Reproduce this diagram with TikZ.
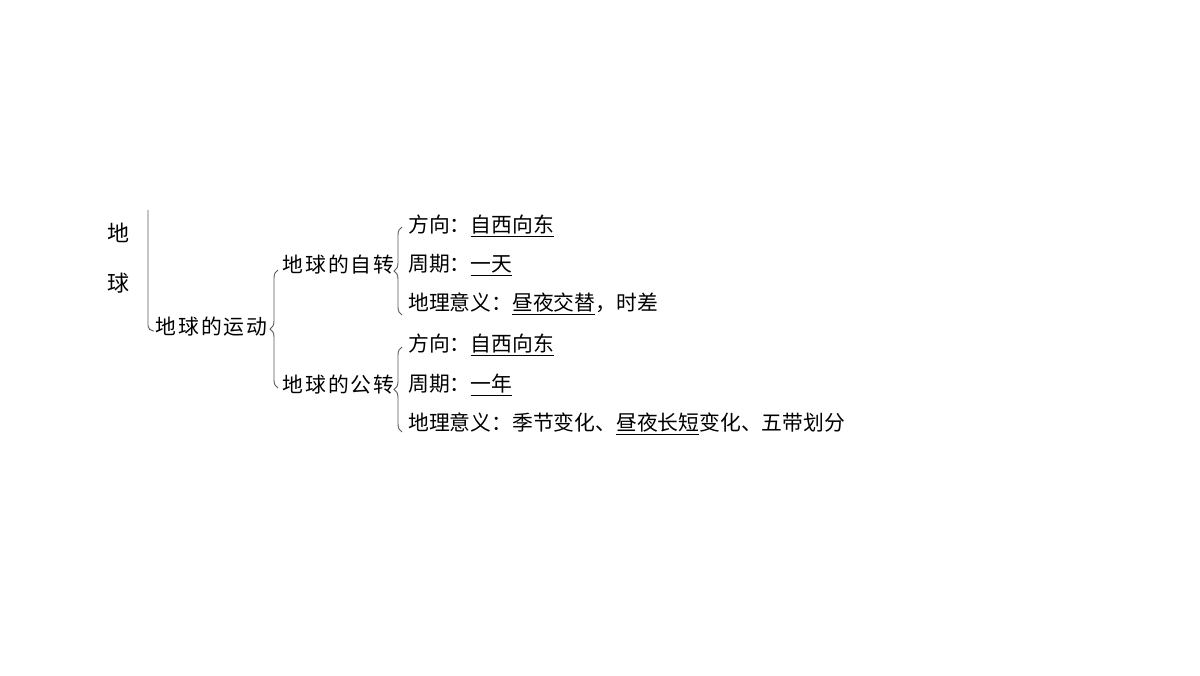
\documentclass[tikz,border=0pt]{standalone}
\usepackage{fontspec}
\usepackage{xcolor}
\usetikzlibrary{decorations.pathreplacing}
\setmainfont{Noto Sans CJK SC}
\definecolor{linegray}{RGB}{90, 90, 90}

\tikzset{
    item/.style={anchor=west,inner sep=0pt,font=\fontsize{15.6}{18}\selectfont},
    spaced/.style={item,font=\fontsize{15.6}{18}\selectfont\addfontfeature{LetterSpace=10}},
    bracket/.style={draw=linegray,line width=0.7pt,decorate,decoration={brace,amplitude=6pt}}
}

\begin{document}
\begin{tikzpicture}[x=0.75pt,y=-0.75pt]
        \useasboundingbox (0,0) rectangle (1200,675);
        % title
        \node[item,anchor=center,font=\fontsize{16.5}{18}\selectfont] (di) at (118,233) {地};
        \node[item,anchor=center,font=\fontsize{16.5}{18}\selectfont] (qiu) at (118,283) {球};
        \draw[linegray,line width=0.7pt,rounded corners=4pt] (148,210) |- (154,331);
        % middle levels
        \node[spaced] (motion) at (155,327) {地球的运动};
        \node[spaced] (rotation) at (282,265) {地球的自转};
        \node[spaced] (revolution) at (282,385) {地球的公转};
        % leaves
        \node[item] (rot1) at (408,226) {方向：\underline{自西向东}};
        \node[item] (rot2) at (408,265) {周期：\underline{一天}};
        \node[item] (rot3) at (408,304) {地理意义：\underline{昼夜交替}，时差};
        \node[item] (rev1) at (408,345) {方向：\underline{自西向东}};
        \node[item] (rev2) at (408,385) {周期：\underline{一年}};
        \node[item] (rev3) at (408,424) {地理意义：季节变化、\underline{昼夜长短}变化、五带划分};
        % braces
        \coordinate (b1s) at (278,388);
        \coordinate (b1e) at (278,270);
        \coordinate (b2s) at (402,315);
        \coordinate (b2e) at (402,227);
        \coordinate (b3s) at (402,432);
        \coordinate (b3e) at (402,347);
        \draw[bracket] (b1s) -- (b1e);
        \draw[bracket] (b2s) -- (b2e);
        \draw[bracket] (b3s) -- (b3e);
    \end{tikzpicture}
\end{document}
